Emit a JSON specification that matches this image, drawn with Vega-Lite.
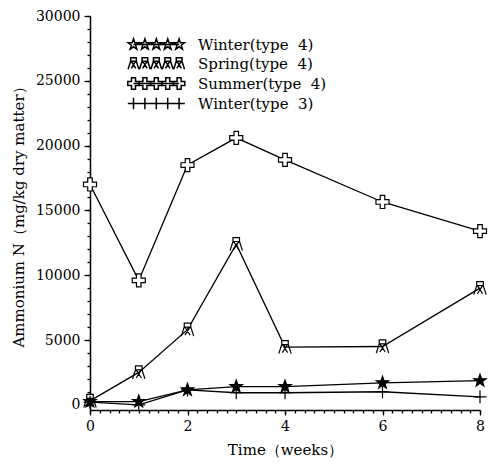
{
  "$schema": "https://vega.github.io/schema/vega-lite/v6.json",
  "width": 390,
  "height": 394,
  "autosize": "none",
  "padding": {"left": 90, "top": 16, "right": 8, "bottom": 54},
  "background": "white",
  "config": {
    "view": {"stroke": null},
    "axis": {
      "grid": false,
      "domainColor": "black",
      "domainWidth": 1.5,
      "tickColor": "black",
      "tickWidth": 1.3,
      "labelColor": "black",
      "titleColor": "black",
      "labelFont": "DejaVu Serif",
      "titleFont": "DejaVu Serif",
      "labelFontSize": 14,
      "titleFontSize": 15,
      "titleFontWeight": "normal"
    }
  },
  "data": {
    "values": [
      {"week": 0, "value": 250, "series": "Winter(type\u00a0\u00a04)"},
      {"week": 1, "value": 250, "series": "Winter(type\u00a0\u00a04)"},
      {"week": 2, "value": 1150, "series": "Winter(type\u00a0\u00a04)"},
      {"week": 3, "value": 1400, "series": "Winter(type\u00a0\u00a04)"},
      {"week": 4, "value": 1400, "series": "Winter(type\u00a0\u00a04)"},
      {"week": 6, "value": 1700, "series": "Winter(type\u00a0\u00a04)"},
      {"week": 8, "value": 1860, "series": "Winter(type\u00a0\u00a04)"},
      {"week": 0, "value": 300, "series": "Spring(type\u00a0\u00a04)"},
      {"week": 1, "value": 2500, "series": "Spring(type\u00a0\u00a04)"},
      {"week": 2, "value": 5800, "series": "Spring(type\u00a0\u00a04)"},
      {"week": 3, "value": 12400, "series": "Spring(type\u00a0\u00a04)"},
      {"week": 4, "value": 4450, "series": "Spring(type\u00a0\u00a04)"},
      {"week": 6, "value": 4500, "series": "Spring(type\u00a0\u00a04)"},
      {"week": 8, "value": 9000, "series": "Spring(type\u00a0\u00a04)"},
      {"week": 0, "value": 17000, "series": "Summer(type\u00a0\u00a04)"},
      {"week": 1, "value": 9600, "series": "Summer(type\u00a0\u00a04)"},
      {"week": 2, "value": 18500, "series": "Summer(type\u00a0\u00a04)"},
      {"week": 3, "value": 20600, "series": "Summer(type\u00a0\u00a04)"},
      {"week": 4, "value": 18900, "series": "Summer(type\u00a0\u00a04)"},
      {"week": 6, "value": 15650, "series": "Summer(type\u00a0\u00a04)"},
      {"week": 8, "value": 13400, "series": "Summer(type\u00a0\u00a04)"},
      {"week": 0, "value": 200, "series": "Winter(type\u00a0\u00a03)"},
      {"week": 1, "value": 0, "series": "Winter(type\u00a0\u00a03)"},
      {"week": 2, "value": 1150, "series": "Winter(type\u00a0\u00a03)"},
      {"week": 3, "value": 930, "series": "Winter(type\u00a0\u00a03)"},
      {"week": 4, "value": 930, "series": "Winter(type\u00a0\u00a03)"},
      {"week": 6, "value": 1010, "series": "Winter(type\u00a0\u00a03)"},
      {"week": 8, "value": 620, "series": "Winter(type\u00a0\u00a03)"}
    ]
  },
  "layer": [
    {
      "mark": {"type": "line", "color": "black", "strokeWidth": 1.3},
      "encoding": {
        "x": {
          "field": "week", "type": "quantitative",
          "scale": {"domain": [0, 8], "nice": false},
          "axis": {"values": [0, 2, 4, 6, 8], "title": "Time（weeks）", "tickSize": 5, "labelPadding": 4, "titlePadding": 9, "labelFlush": false}
        },
        "y": {
          "field": "value", "type": "quantitative",
          "scale": {"domain": [-400, 30000], "nice": false, "zero": false},
          "axis": {"values": [0, 5000, 10000, 15000, 20000, 25000, 30000], "format": "d", "title": "Ammonium N（mg/kg dry matter）", "tickSize": 6, "labelPadding": 4, "titlePadding": 9}
        },
        "detail": {"field": "series"}
      }
    },
    {
      "mark": {"type": "point", "filled": true, "stroke": "black", "strokeWidth": 1.2, "opacity": 1, "size": 170},
      "encoding": {
        "x": {
          "field": "week", "type": "quantitative",
          "axis": {"orient": "bottom", "values": [0,0.2,0.4,0.6,0.8,1,1.2,1.4,1.6,1.8,2,2.2,2.4,2.6,2.8,3,3.2,3.4,3.6,3.8,4,4.2,4.4,4.6,4.8,5,5.2,5.4,5.6,5.8,6,6.2,6.4,6.6,6.8,7,7.2,7.4,7.6,7.8,8], "labels": false, "domain": false, "tickSize": 3, "title": null}
        },
        "y": {
          "field": "value", "type": "quantitative",
          "axis": {"orient": "left", "values": [0,1000,2000,3000,4000,5000,6000,7000,8000,9000,10000,11000,12000,13000,14000,15000,16000,17000,18000,19000,20000,21000,22000,23000,24000,25000,26000,27000,28000,29000,30000], "labels": false, "domain": false, "tickSize": 3, "title": null}
        },
        "shape": {
          "field": "series", "type": "nominal",
          "scale": {
            "domain": ["Winter(type\u00a0\u00a03)", "Winter(type\u00a0\u00a04)", "Spring(type\u00a0\u00a04)", "Summer(type\u00a0\u00a04)"],
            "range": [
              "M-1,0H1M0,-1V1",
              "M0,-1L0.235,-0.324L0.951,-0.309L0.38,0.124L0.588,0.809L0,0.4L-0.588,0.809L-0.38,0.124L-0.951,-0.309L-0.235,-0.324Z",
              "M-0.5,-1H0.5V-0.4H-0.5ZM-0.5,-0.4L-0.95,1M0.5,-0.4L0.95,1M-0.4,-0.4L0.4,0.85M0.4,-0.4L-0.4,0.85",
              "M-0.35,-1H0.35V-0.35H1V0.35H0.35V1H-0.35V0.35H-1V-0.35H-0.35Z"
            ]
          },
          "legend": null
        },
        "fill": {
          "field": "series", "type": "nominal",
          "scale": {
            "domain": ["Winter(type\u00a0\u00a04)", "Spring(type\u00a0\u00a04)", "Summer(type\u00a0\u00a04)", "Winter(type\u00a0\u00a03)"],
            "range": ["black", "white", "white", "transparent"]
          },
          "legend": null
        }
      }
    },
    {
      "transform": [{"filter": "datum.week < 0"}],
      "mark": {"type": "point", "filled": true, "fill": "white", "stroke": "black", "strokeWidth": 1.2, "opacity": 1, "size": 130},
      "encoding": {
        "shape": {
          "field": "series", "type": "nominal",
          "scale": {
            "domain": ["Winter(type\u00a0\u00a04)", "Spring(type\u00a0\u00a04)", "Summer(type\u00a0\u00a04)", "Winter(type\u00a0\u00a03)"],
            "range": [
              "M0,0H8M0,-1L0.235,-0.324L0.951,-0.309L0.38,0.124L0.588,0.809L0,0.4L-0.588,0.809L-0.38,0.124L-0.951,-0.309L-0.235,-0.324ZM2,-1L2.235,-0.324L2.951,-0.309L2.38,0.124L2.588,0.809L2,0.4L1.412,0.809L1.62,0.124L1.049,-0.309L1.765,-0.324ZM4,-1L4.235,-0.324L4.951,-0.309L4.38,0.124L4.588,0.809L4,0.4L3.412,0.809L3.62,0.124L3.049,-0.309L3.765,-0.324ZM6,-1L6.235,-0.324L6.951,-0.309L6.38,0.124L6.588,0.809L6,0.4L5.412,0.809L5.62,0.124L5.049,-0.309L5.765,-0.324ZM8,-1L8.235,-0.324L8.951,-0.309L8.38,0.124L8.588,0.809L8,0.4L7.412,0.809L7.62,0.124L7.049,-0.309L7.765,-0.324Z",
              "M-0.5,-1H0.5V-0.4H-0.5ZM-0.5,-0.4L-0.95,1M0.5,-0.4L0.95,1M-0.4,-0.4L0.4,0.85M0.4,-0.4L-0.4,0.85M1.5,-1H2.5V-0.4H1.5ZM1.5,-0.4L1.05,1M2.5,-0.4L2.95,1M1.6,-0.4L2.4,0.85M2.4,-0.4L1.6,0.85M3.5,-1H4.5V-0.4H3.5ZM3.5,-0.4L3.05,1M4.5,-0.4L4.95,1M3.6,-0.4L4.4,0.85M4.4,-0.4L3.6,0.85M5.5,-1H6.5V-0.4H5.5ZM5.5,-0.4L5.05,1M6.5,-0.4L6.95,1M5.6,-0.4L6.4,0.85M6.4,-0.4L5.6,0.85M7.5,-1H8.5V-0.4H7.5ZM7.5,-0.4L7.05,1M8.5,-0.4L8.95,1M7.6,-0.4L8.4,0.85M8.4,-0.4L7.6,0.85",
              "M0,0H8M-0.35,-1H0.35V-0.35H1V0.35H0.35V1H-0.35V0.35H-1V-0.35H-0.35ZM1.65,-1H2.35V-0.35H3V0.35H2.35V1H1.65V0.35H1V-0.35H1.65ZM3.65,-1H4.35V-0.35H5V0.35H4.35V1H3.65V0.35H3V-0.35H3.65ZM5.65,-1H6.35V-0.35H7V0.35H6.35V1H5.65V0.35H5V-0.35H5.65ZM7.65,-1H8.35V-0.35H9V0.35H8.35V1H7.65V0.35H7V-0.35H7.65Z",
              "M-1,0H9M0,-1V1M2,-1V1M4,-1V1M6,-1V1M8,-1V1"
            ]
          },
          "legend": {
            "title": null,
            "orient": "none",
            "legendX": 36,
            "legendY": 21,
            "padding": 0,
            "symbolSize": 130,
            "labelFont": "DejaVu Serif",
            "labelFontSize": 15,
            "labelColor": "black",
            "labelOffset": 57,
            "labelLimit": 300,
            "rowPadding": 1,
            "encode": {
              "symbols": {
                "fill": {"value": {"expr": "datum.value === 'Winter(type\u00a0\u00a03)' ? 'transparent' : (datum.value === 'Winter(type\u00a0\u00a04)' ? 'black' : 'white')"}},
                "stroke": {"value": "black"},
                "strokeWidth": {"value": 1.2},
                "opacity": {"value": 1}
              }
            }
          }
        }
      }
    }
  ],
  "resolve": {"axis": {"x": "independent", "y": "independent"}, "scale": {"shape": "independent"}}
}
